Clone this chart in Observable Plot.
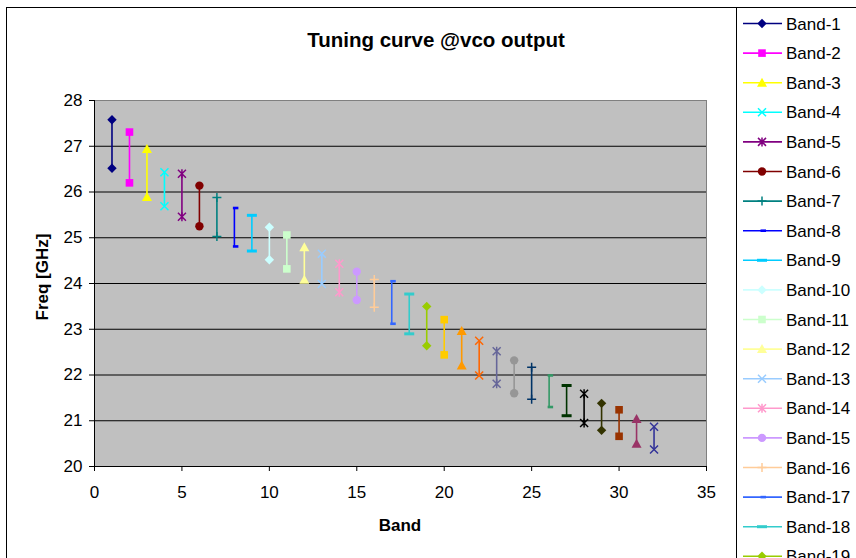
<!DOCTYPE html>
<html>
<head>
<meta charset="utf-8">
<script src="https://cdn.jsdelivr.net/npm/d3@7"></script>
<script src="https://cdn.jsdelivr.net/npm/@observablehq/plot@0.6"></script>
<style>
  html, body { margin: 0; padding: 0; background: #fff; }
  #chart { position: relative; width: 856px; height: 558px; overflow: hidden; }
  svg { display: block; }
</style>
</head>
<body>
<div id="chart"></div>
<script>
// ---- data ----
const bands = [1,2,3,4,5,6,7,8,9,10,11,12,13,14,15,16,17,18,19,20,21,22,23,24,25,26,27,28,29,30,31,32];
const highFreq = [27.58,27.31,26.94,26.43,26.40,26.14,25.88,25.65,25.49,25.23,25.06,24.79,24.65,24.43,24.26,24.09,24.05,23.77,23.50,23.21,22.96,22.75,22.52,22.32,22.17,21.99,21.77,21.59,21.38,21.24,21.04,20.87];
const lowFreq  = [26.52,26.20,25.89,25.69,25.46,25.25,25.03,24.81,24.71,24.52,24.32,24.08,23.99,23.81,23.64,23.48,23.12,22.90,22.64,22.44,22.21,21.99,21.81,21.60,21.47,21.30,21.11,20.95,20.79,20.66,20.50,20.37];
const seriesNames = bands.map(b => "Band-" + b);
const colors = ["#000080","#FF00FF","#FFFF00","#00FFFF","#800080","#800000","#008080","#0000FF",
  "#00CCFF","#CCFFFF","#CCFFCC","#FFFF99","#99CCFF","#FF99CC","#CC99FF","#FFCC99",
  "#3366FF","#33CCCC","#99CC00","#FFCC00","#FF9900","#FF6600","#666699","#969696",
  "#003366","#339966","#003300","#000000","#333300","#993300","#993366","#333399"];
const markers = ["diamond","square","triangle","x","star","circle","plus","shortdash","longdash",
  "diamond","square","triangle","x","star","circle","plus","shortdash","longdash",
  "diamond","square","triangle","x","star","circle","plus","shortdash","longdash",
  "star","diamond","square","triangle","x"];
const xTicks = [0,5,10,15,20,25,30,35];
const yTicks = [20,21,22,23,24,25,26,27,28];
const gridTicks = [21,22,23,24,25,26,27];
const title = "Tuning curve @vco output";
const xLabel = "Band";
const yLabel = "Freq [GHz]";
const legendVisible = 19; // entries that fit in the visible window

// ---- marker shapes (Excel style) ----
const symbols = {
  diamond: {draw(c){c.moveTo(0,-4.7);c.lineTo(4.7,0);c.lineTo(0,4.7);c.lineTo(-4.7,0);c.closePath();}},
  square: {draw(c){c.rect(-3.8,-3.8,7.6,7.6);}},
  triangle: {draw(c){c.moveTo(0,-5);c.lineTo(5,4);c.lineTo(-5,4);c.closePath();}},
  x: {draw(c){c.moveTo(-4,-4);c.lineTo(4,4);c.moveTo(4,-4);c.lineTo(-4,4);}},
  star: {draw(c){c.moveTo(-4,-4);c.lineTo(4,4);c.moveTo(4,-4);c.lineTo(-4,4);c.moveTo(0,-4.5);c.lineTo(0,4.5);}},
  circle: {draw(c){c.moveTo(4.2,0);c.arc(0,0,4.2,0,2*Math.PI);c.closePath();}},
  plus: {draw(c){c.moveTo(-4.5,0);c.lineTo(4.5,0);c.moveTo(0,-4.5);c.lineTo(0,4.5);}},
  shortdash: {draw(c){c.rect(-1.5,-1.3,5.5,2.6);}},
  longdash: {draw(c){c.rect(-5,-1.5,10,3);}}
};
const filled = new Set(["diamond","square","triangle","circle","shortdash","longdash"]);

const rows = bands.map((b,i) => ({band: b, lo: lowFreq[i], hi: highFreq[i], color: colors[i], marker: markers[i]}));

const FONT = "'Liberation Sans', Arial, Helvetica, sans-serif";

const marks = [
  Plot.frame({fill: "#C0C0C0", stroke: null}),
  Plot.ruleY(gridTicks, {stroke: "#000", strokeWidth: 1}),
  Plot.frame({stroke: "#808080", fill: "none"}),
  Plot.ruleY([20], {stroke: "#000"}),
  Plot.ruleX([0], {stroke: "#000"}),
  Plot.axisX({ticks: xTicks, tickSize: 5, tickPadding: 14, label: null, fontSize: 17}),
  Plot.axisY({ticks: yTicks, tickSize: 5, tickPadding: 7, label: null, fontSize: 17}),
  Plot.ruleX(rows, {x: "band", y1: "lo", y2: "hi", stroke: "color", strokeWidth: 1.6})
];
rows.forEach(r => {
  const pts = [{band: r.band, f: r.hi}, {band: r.band, f: r.lo}];
  const isFilled = filled.has(r.marker);
  marks.push(Plot.dot(pts, {
    x: "band", y: "f", r: 4,
    symbol: symbols[r.marker],
    fill: isFilled ? r.color : "none",
    stroke: isFilled ? "none" : r.color,
    strokeWidth: 1.5
  }));
});

const svg = Plot.plot({
  width: 856, height: 558,
  marginLeft: 94, marginRight: 150, marginTop: 100, marginBottom: 92,
  x: {domain: [0, 35]},
  y: {domain: [20, 28]},
  color: {type: "identity"},
  style: {fontFamily: FONT, fontSize: "17px", color: "#000", background: "#fff", overflow: "hidden"},
  marks
});
document.getElementById("chart").appendChild(svg);

// ---- decorations: borders, title, axis titles, legend ----
const s = d3.select(svg);
const deco = s.append("g");
deco.append("line").attr("x1", 6).attr("x2", 856).attr("y1", 7.5).attr("y2", 7.5).attr("stroke", "#000");
deco.append("line").attr("x1", 6.5).attr("x2", 6.5).attr("y1", 7.5).attr("y2", 558).attr("stroke", "#000");
deco.append("line").attr("x1", 736.5).attr("x2", 736.5).attr("y1", 7.5).attr("y2", 558).attr("stroke", "#000");

deco.append("text").text(title)
  .attr("x", 436).attr("y", 47).attr("text-anchor", "middle")
  .attr("font-family", FONT).attr("font-size", 20.5).attr("font-weight", "bold");
deco.append("text").text(xLabel)
  .attr("x", 400).attr("y", 531).attr("text-anchor", "middle")
  .attr("font-family", FONT).attr("font-size", 17).attr("font-weight", "bold");
deco.append("text").text(yLabel)
  .attr("transform", "translate(48,277) rotate(-90)").attr("text-anchor", "middle")
  .attr("font-family", FONT).attr("font-size", 17).attr("font-weight", "bold");

const leg = deco.append("g");
rows.slice(0, legendVisible).forEach((r, i) => {
  const y = 23.5 + 29.6 * i;
  const g = leg.append("g").attr("transform", `translate(0,${y})`);
  g.append("line").attr("x1", 743).attr("x2", 782).attr("y1", 0).attr("y2", 0)
    .attr("stroke", r.color).attr("stroke-width", 1.6);
  const isFilled = filled.has(r.marker);
  g.append("path").attr("transform", "translate(762,0)")
    .attr("d", d3.symbol().type(symbols[r.marker])())
    .attr("fill", isFilled ? r.color : "none")
    .attr("stroke", isFilled ? "none" : r.color)
    .attr("stroke-width", 1.5);
  g.append("text").text(seriesNames[i])
    .attr("x", 786).attr("y", 6).attr("text-anchor", "start")
    .attr("font-family", FONT).attr("font-size", 17);
});
</script>
</body>
</html>
